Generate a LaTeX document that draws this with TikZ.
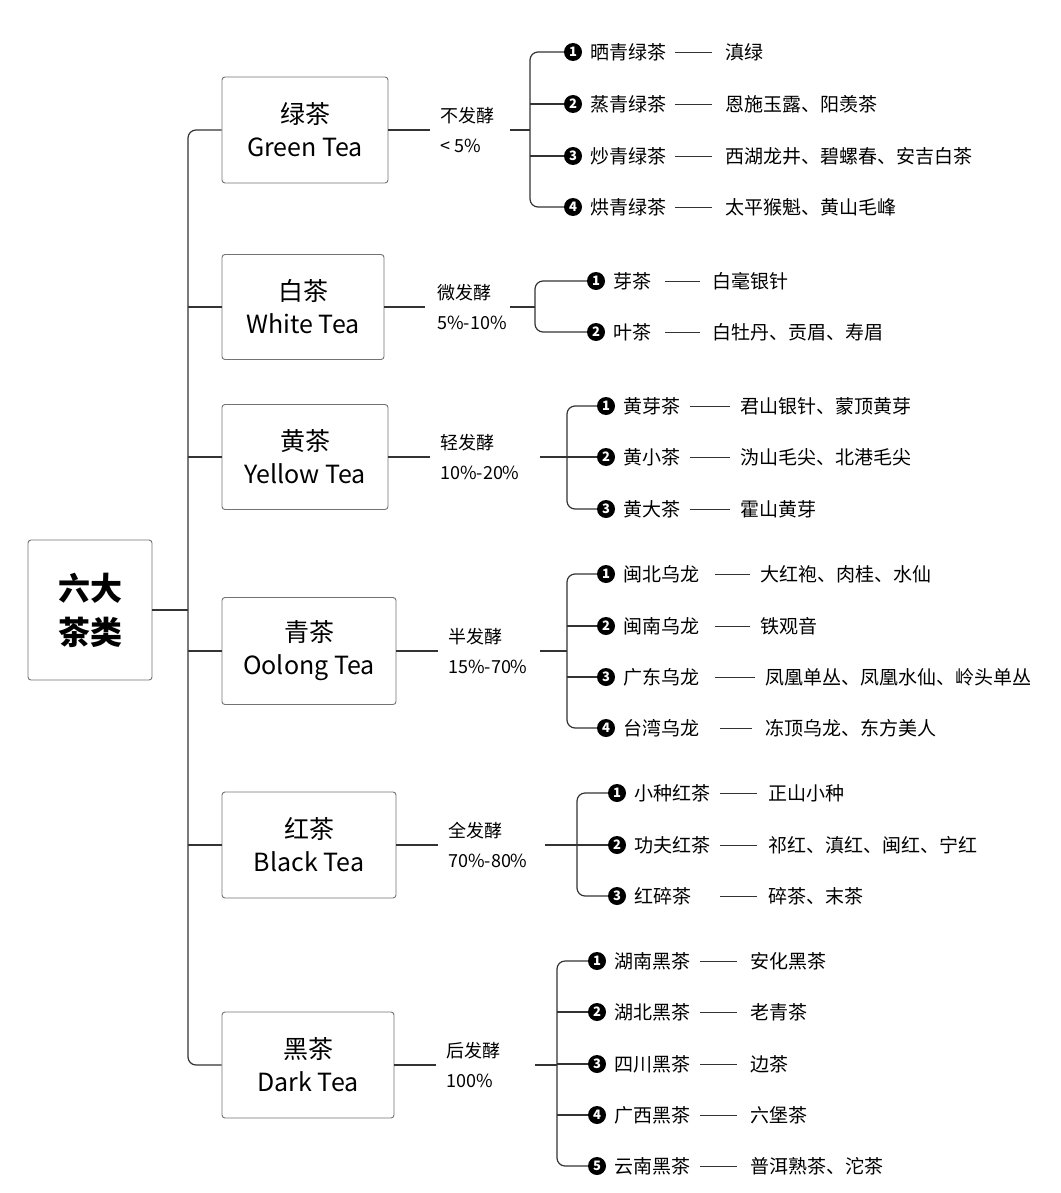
\documentclass[tikz,border=0pt]{standalone}
\usepackage{fontspec}
\setmainfont{Noto Sans CJK SC}
\begin{document}
\begin{tikzpicture}[x=1pt,y=-1pt,
  ln/.style={draw=black!80,line width=1.2pt},
  box/.style={draw=black!55,line width=0.9pt,rounded corners=3pt,fill=white,align=center,font=\fontsize{25}{33}\selectfont,inner sep=0},
  num/.style={circle,fill=black,text=white,inner sep=0,minimum size=18pt,font=\fontsize{13}{13}\selectfont\bfseries},
  txt/.style={anchor=west,inner sep=0,font=\fontsize{19}{22}\selectfont},
  fer/.style={anchor=west,align=left,inner sep=0,font=\fontsize{18}{30}\selectfont}]
\useasboundingbox (0,0) rectangle (1060,1193);
\newcommand{\teaitem}[9]{%
  \node[num] (n#1) at (#2,#3) {#4};
  \node[txt] (t#1) at (#2+17,#3) {#5};
  \draw[ln,line width=0.9pt] (#6,#3) -- (#7,#3);
  \node[txt] (v#1) at (#8,#3) {#9};}
% root
\node[box,minimum width=124pt,minimum height=140pt,font=\fontsize{32}{44}\selectfont\bfseries] (root) at (90,610) {六大\\茶类};
\coordinate (trunk) at (188,610);
\draw[ln] (root.east) -- (trunk);
% categories
\node[box,minimum width=166pt,minimum height=106pt] (c1) at (305,130) {绿茶\\Green Tea};
\node[box,minimum width=162pt,minimum height=105pt] (c2) at (303,307) {白茶\\White Tea};
\node[box,minimum width=166pt,minimum height=105pt] (c3) at (305,457) {黄茶\\Yellow Tea};
\node[box,minimum width=174pt,minimum height=107pt] (c4) at (309,651) {青茶\\Oolong Tea};
\node[box,minimum width=174pt,minimum height=106pt] (c5) at (309,845) {红茶\\Black Tea};
\node[box,minimum width=172pt,minimum height=106pt] (c6) at (308,1065) {黑茶\\Dark Tea};
\draw[ln,rounded corners=8pt] (c1.west) -| (188,610) |- (c6.west);
\foreach \i in {2,3,4,5} \draw[ln] (188,0 |- c\i.west) -- (c\i.west);
% fermentation
\node[fer] (f1) at (440,130) {不发酵\\< 5\%};
\node[fer] (f2) at (437,307) {微发酵\\5\%-10\%};
\node[fer] (f3) at (440,457) {轻发酵\\10\%-20\%};
\node[fer] (f4) at (448,651) {半发酵\\15\%-70\%};
\node[fer] (f5) at (448,845) {全发酵\\70\%-80\%};
\node[fer] (f6) at (446,1065) {后发酵\\100\%};
\draw[ln] (c1.east) -- (430,130); \draw[ln] (510,130) -- (530,130);
\draw[ln] (c2.east) -- (425,307); \draw[ln] (510,307) -- (535,307);
\draw[ln] (c3.east) -- (430,457); \draw[ln] (540,457) -- (567,457);
\draw[ln] (c4.east) -- (438,651); \draw[ln] (540,651) -- (567,651);
\draw[ln] (c5.east) -- (438,845); \draw[ln] (545,845) -- (577,845);
\draw[ln] (c6.east) -- (436,1065); \draw[ln] (535,1065) -- (557,1065);
% green
\teaitem{a1}{573}{52}{1}{晒青绿茶}{675}{712}{725}{滇绿}
\teaitem{a2}{573}{104}{2}{蒸青绿茶}{675}{712}{725}{恩施玉露、阳羡茶}
\teaitem{a3}{573}{156}{3}{炒青绿茶}{675}{712}{725}{西湖龙井、碧螺春、安吉白茶}
\teaitem{a4}{573}{207}{4}{烘青绿茶}{675}{712}{725}{太平猴魁、黄山毛峰}
\draw[ln,rounded corners=8pt] (na1.west) -| (530,130) |- (na4.west);
\draw[ln] (530,104) -- (na2.west); \draw[ln] (530,156) -- (na3.west);
% white
\teaitem{b1}{596}{281}{1}{芽茶}{665}{700}{712}{白毫银针}
\teaitem{b2}{596}{332}{2}{叶茶}{665}{700}{712}{白牡丹、贡眉、寿眉}
\draw[ln,rounded corners=8pt] (nb1.west) -| (535,307) |- (nb2.west);
% yellow
\teaitem{y1}{606}{406}{1}{黄芽茶}{690}{730}{740}{君山银针、蒙顶黄芽}
\teaitem{y2}{606}{457}{2}{黄小茶}{690}{730}{740}{沩山毛尖、北港毛尖}
\teaitem{y3}{606}{509}{3}{黄大茶}{690}{730}{740}{霍山黄芽}
\draw[ln,rounded corners=8pt] (ny1.west) -| (567,457) |- (ny3.west);
\draw[ln] (567,457) -- (ny2.west);
% oolong
\teaitem{o1}{606}{574}{1}{闽北乌龙}{715}{750}{760}{大红袍、肉桂、水仙}
\teaitem{o2}{606}{626}{2}{闽南乌龙}{715}{750}{760}{铁观音}
\teaitem{o3}{606}{677}{3}{广东乌龙}{715}{755}{765}{凤凰单丛、凤凰水仙、岭头单丛}
\teaitem{o4}{606}{728}{4}{台湾乌龙}{720}{752}{765}{冻顶乌龙、东方美人}
\draw[ln,rounded corners=8pt] (no1.west) -| (567,651) |- (no4.west);
\draw[ln] (567,626) -- (no2.west); \draw[ln] (567,677) -- (no3.west);
% black
\teaitem{k1}{617}{793}{1}{小种红茶}{720}{757}{768}{正山小种}
\teaitem{k2}{617}{845}{2}{功夫红茶}{720}{757}{768}{祁红、滇红、闽红、宁红}
\teaitem{k3}{617}{896}{3}{红碎茶}{720}{757}{768}{碎茶、末茶}
\draw[ln,rounded corners=8pt] (nk1.west) -| (577,845) |- (nk3.west);
\draw[ln] (577,845) -- (nk2.west);
% dark
\teaitem{d1}{597}{961}{1}{湖南黑茶}{700}{737}{750}{安化黑茶}
\teaitem{d2}{597}{1012}{2}{湖北黑茶}{700}{737}{750}{老青茶}
\teaitem{d3}{597}{1064}{3}{四川黑茶}{700}{737}{750}{边茶}
\teaitem{d4}{597}{1115}{4}{广西黑茶}{700}{737}{750}{六堡茶}
\teaitem{d5}{597}{1166}{5}{云南黑茶}{700}{737}{750}{普洱熟茶、沱茶}
\draw[ln,rounded corners=8pt] (nd1.west) -| (557,1065) |- (nd5.west);
\foreach \i/\y in {2/1012,3/1064,4/1115} \draw[ln] (557,\y) -- (nd\i.west);
\end{tikzpicture}
\end{document}
